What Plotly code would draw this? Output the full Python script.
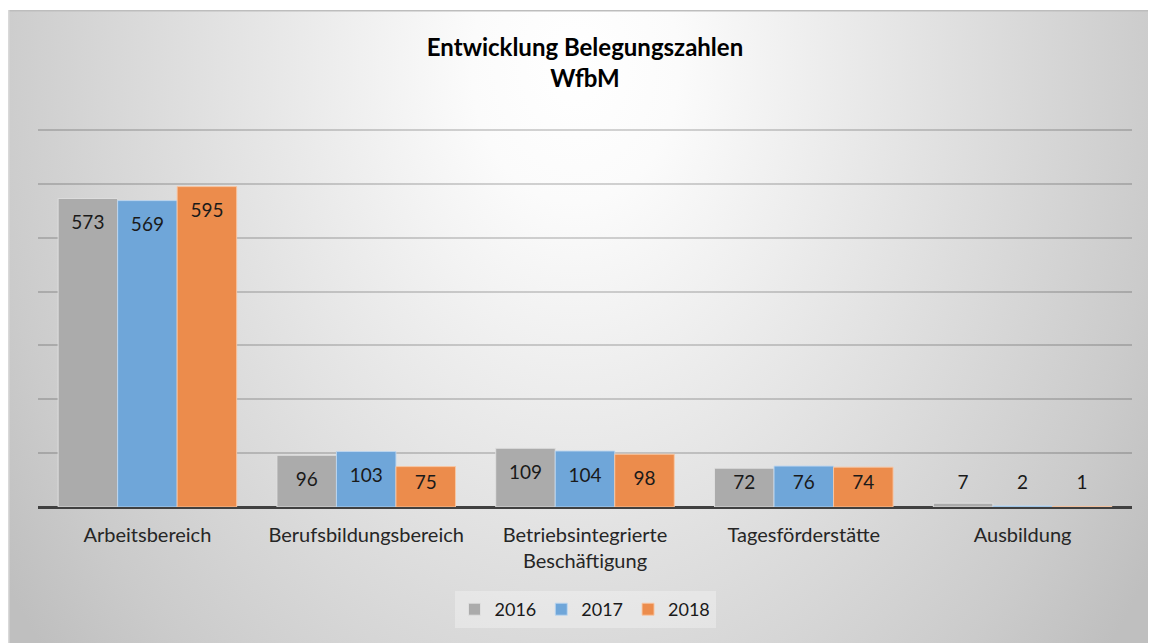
import base64
import plotly.graph_objects as go

categories = ["Arbeitsbereich", "Berufsbildungsbereich", "Betriebsintegrierte<br>Beschäftigung",
              "Tagesförderstätte", "Ausbildung"]
years = ["2016", "2017", "2018"]
values_2016 = [573, 96, 109, 72, 7]
values_2017 = [569, 103, 104, 76, 2]
values_2018 = [595, 75, 98, 74, 1]
series = [values_2016, values_2017, values_2018]
colors = ["#ababab", "#6fa6d9", "#ec8c4c"]
edge_colors = ["rgba(225,225,225,0.9)", "rgba(190,215,240,0.9)", "rgba(248,200,165,0.9)"]

# the page adds an 8px body margin, so the figure starts at page (8, 8)
W, H = 1148, 635
ML, MR, MT, MB = 30, 24, 121, 136
PW, PH = W - ML - MR, H - MT - MB

# background (radial gradient panel) as SVG
bx0, by0 = 0, 2
bw, bh = W - bx0, H - by0
cx, cy = 567, 55
svg = f'''<svg xmlns="http://www.w3.org/2000/svg" width="{bw}" height="{bh}" viewBox="0 0 {bw} {bh}" preserveAspectRatio="none">
<defs><radialGradient id="g" gradientUnits="userSpaceOnUse" cx="{cx}" cy="{cy}" r="690"
 gradientTransform="translate({cx} {cy}) scale(1 1.33) translate(-{cx} -{cy})">
<stop offset="0" stop-color="#ffffff"/><stop offset="0.15" stop-color="#fbfbfb"/>
<stop offset="0.85" stop-color="#cbcbcb"/><stop offset="1" stop-color="#bfbfbf"/></radialGradient></defs>
<rect x="0" y="0" width="{bw}" height="{bh}" fill="url(#g)"/>
<line x1="0" y1="0.75" x2="{bw}" y2="0.75" stroke="#bdbdbd" stroke-width="1.5"/>
<line x1="0.75" y1="0" x2="0.75" y2="{bh}" stroke="#d9d9d9" stroke-width="1.5"/>
</svg>'''
src = "data:image/svg+xml;base64," + base64.b64encode(svg.encode()).decode()

bar_w = 0.272
fig = go.Figure()
idx = list(range(len(categories)))
for k, (yr, vals) in enumerate(zip(years, series)):
    fig.add_trace(go.Bar(
        x=idx, y=vals, name=yr, width=bar_w, offset=-1.5 * bar_w + k * bar_w,
        marker=dict(color=colors[k], line=dict(color=edge_colors[k], width=1)),
        hoverinfo="y",
    ))
for k, vals in enumerate(series):
    fig.add_trace(go.Scatter(
        x=[i + (k - 1) * bar_w for i in idx],
        y=[max(v - 48, 42) for v in vals],
        mode="text", text=[str(v) for v in vals],
        textfont=dict(family="Lato", size=19, color="#1a1a1a"),
        showlegend=False, hoverinfo="skip",
    ))

fig.update_layout(
    width=W, height=H,
    margin=dict(l=ML, r=MR, t=MT, b=MB),
    paper_bgcolor="white", plot_bgcolor="rgba(0,0,0,0)",
    barmode="overlay",
    font=dict(family="Lato", size=18, color="#262626"),
    title=dict(text="<b>Entwicklung Belegungszahlen<br>WfbM</b>",
               x=0.5, xref="paper", xanchor="center",
               y=1 - 48 / H, yanchor="middle",
               font=dict(family="Lato", size=24, color="#000000")),
    xaxis=dict(range=[-0.5, 4.5], tickvals=idx, ticktext=categories,
               showgrid=False, zeroline=False, ticks="", showline=False,
               tickfont=dict(family="Lato", size=20, color="#262626"),
               ticklabelstandoff=14, fixedrange=True),
    yaxis=dict(range=[0, 702], tickvals=[100, 200, 300, 400, 500, 600, 700],
               showticklabels=False,
               showgrid=True, gridcolor="rgba(0,0,0,0.17)", gridwidth=1.5,
               zeroline=True, zerolinecolor="#404040", zerolinewidth=3,
               showline=False, fixedrange=True),
    legend=dict(orientation="h", x=0.5, xanchor="center",
                y=-(583 - (MT + PH)) / PH, yanchor="top",
                bgcolor="rgba(255,255,255,0.3)",
                font=dict(family="Lato", size=18, color="#1a1a1a"),
                itemwidth=30),
    images=[dict(source=src, xref="paper", yref="paper",
                 x=(bx0 - ML) / PW, y=(MT + PH - by0) / PH,
                 sizex=bw / PW, sizey=bh / PH,
                 xanchor="left", yanchor="top", sizing="stretch", layer="below")],
    showlegend=True,
)

fig.write_html("out.html")
